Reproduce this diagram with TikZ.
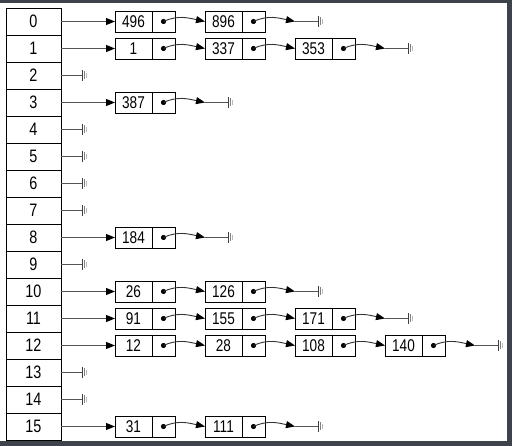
\documentclass[tikz,border=0pt]{standalone}
\usepackage{fontspec}
\setmainfont{Liberation Sans}[FakeStretch=0.8]
\usetikzlibrary{arrows.meta}
\definecolor{framec}{HTML}{3E434B}
\definecolor{lgray}{HTML}{555555}
\tikzset{
 arr/.style={draw, minimum width=55pt, minimum height=27pt, inner sep=0pt, outer sep=0pt, line width=0.8pt, font=\fontsize{18}{18}\selectfont},
 datac/.style={draw, minimum width=37pt, minimum height=21pt, inner sep=0pt, outer sep=0pt, line width=0.8pt, font=\fontsize{17}{17}\selectfont},
 ptrc/.style={draw, minimum width=23pt, minimum height=21pt, inner sep=0pt, outer sep=0pt, line width=0.8pt},
 head/.style={-{Triangle[length=9pt,width=7pt,color=black]}, draw=lgray, line width=1pt},
 link/.style={-{Triangle[length=9pt,width=7pt,color=black]}, draw=black!80, line width=0.9pt},
 stub/.style={draw=lgray, line width=1pt},
 gnd/.pic={
   \draw[black!75, line width=1pt] (0,-5.5) -- (0,5.5);
   \draw[gray, line width=1pt] (2,-4) -- (2,4);
   \draw[gray!55, line width=1pt] (4,-2.5) -- (4,2.5);
 },
}
\begin{document}
\begin{tikzpicture}[x=1pt,y=-1pt]
\useasboundingbox (0,0) rectangle (512,446);
\fill[white] (0,0) rectangle (512,446);
\fill[framec] (0,0) rectangle (512,3);
\fill[framec] (507,0) rectangle (512,446);
\fill[framec] (0,441) rectangle (512,446);
% array
\foreach \i in {0,...,15} \node[arr] (a\i) at (33.5, 21.5+27*\i) {\i};
% empty buckets
\foreach \i in {2,4,5,6,7,9,13,14} {
  \coordinate (g\i) at ([xshift=21pt]a\i.east);
  \draw[stub] (a\i.east) -- (g\i);
  \pic at (g\i) {gnd};
}
% lists
\foreach \r/\vals in {0/{496,896}, 1/{1,337,353}, 3/{387}, 8/{184}, 10/{26,126}, 11/{91,155,171}, 12/{12,28,108,140}, 15/{31,111}} {
  \foreach \v [count=\c] in \vals {
    \pgfmathtruncatemacro\k{\c-1}
    \node[datac, anchor=west] (d\r-\k) at (115+90*\k, 21.5+27*\r) {\v};
    \node[ptrc, anchor=west] (p\r-\k) at (d\r-\k.east) {};
    \fill (p\r-\k.center) circle (2.6pt);
    \ifnum\k>0
      \pgfmathtruncatemacro\j{\k-1}
      \draw[link] (p\r-\j.center) to[out=25,in=168] (d\r-\k.west);
    \fi
    \xdef\lastk{\k}
  }
  \draw[head] (a\r.east) -- (d\r-0.west);
  \coordinate (n\r) at ([xshift=30pt]p\r-\lastk.east);
  \coordinate (g\r) at ([xshift=23pt]n\r);
  \draw[link] (p\r-\lastk.center) to[out=25,in=168] (n\r);
  \draw[stub] (n\r) -- (g\r);
  \pic at (g\r) {gnd};
}
\end{tikzpicture}
\end{document}
